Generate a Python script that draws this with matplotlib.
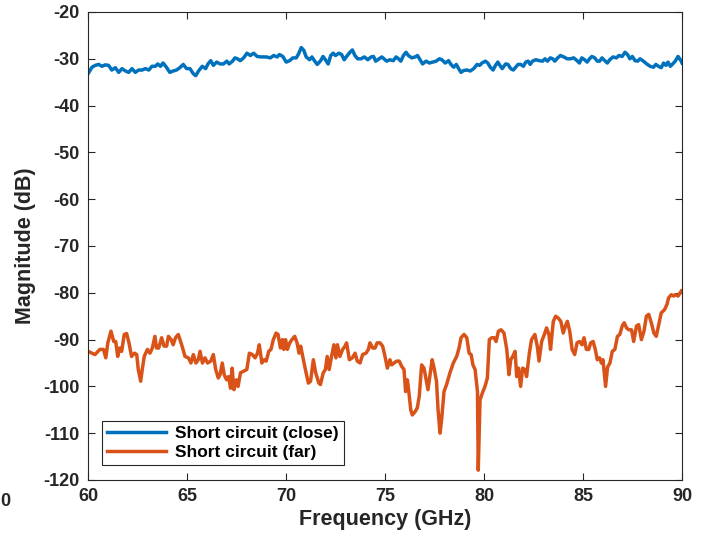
import matplotlib
matplotlib.use("Agg")
import matplotlib.pyplot as plt

plt.rcParams['font.family'] = ['Liberation Sans', 'DejaVu Sans']
plt.rcParams['axes.unicode_minus'] = False

# Short circuit (close) - frequency (GHz), magnitude (dB)
close_f = [60.0, 60.2, 60.37, 60.54, 60.7, 60.87, 61.04, 61.2, 61.38, 61.55, 61.72, 61.89,
           62.05, 62.22, 62.39, 62.56, 62.73, 62.9, 63.07, 63.23, 63.4, 63.52, 63.66, 63.79,
           63.96, 64.13, 64.3, 64.47, 64.64, 64.81, 64.98, 65.15, 65.32, 65.44, 65.6, 65.77,
           65.94, 66.06, 66.2, 66.33, 66.5, 66.67, 66.84, 67.01, 67.13, 67.3, 67.42, 67.55,
           67.69, 67.86, 68.03, 68.2, 68.37, 68.54, 68.74, 69.0, 69.21, 69.38, 69.55, 69.67,
           69.84, 70.01, 70.18, 70.35, 70.52, 70.64, 70.77, 70.9, 71.02, 71.19, 71.31, 71.45,
           71.58, 71.75, 71.87, 71.99, 72.13, 72.26, 72.38, 72.5, 72.67, 72.81, 72.94, 73.06,
           73.23, 73.35, 73.48, 73.62, 73.79, 73.96, 74.13, 74.3, 74.42, 74.53, 74.7, 74.84,
           75.08, 75.25, 75.42, 75.56, 75.68, 75.8, 75.93, 76.06, 76.18, 76.35, 76.52, 76.64,
           76.77, 76.9, 77.07, 77.24, 77.41, 77.58, 77.75, 77.87, 78.04, 78.21, 78.33, 78.47,
           78.6, 78.72, 78.84, 78.97, 79.14, 79.31, 79.48, 79.65, 79.78, 79.9, 80.07, 80.19,
           80.32, 80.46, 80.58, 80.7, 80.8, 80.92, 81.09, 81.21, 81.35, 81.48, 81.6, 81.72,
           81.86, 81.99, 82.11, 82.23, 82.33, 82.45, 82.62, 82.79, 82.96, 83.08, 83.21, 83.35,
           83.47, 83.58, 83.72, 83.86, 84.03, 84.2, 84.36, 84.53, 84.7, 84.82, 84.94, 85.08,
           85.21, 85.33, 85.45, 85.59, 85.72, 85.84, 85.96, 86.1, 86.23, 86.35, 86.52, 86.69,
           86.81, 86.98, 87.12, 87.25, 87.37, 87.49, 87.63, 87.76, 87.88, 88.05, 88.22, 88.39,
           88.56, 88.68, 88.81, 88.95, 89.07, 89.19, 89.29, 89.41, 89.53, 89.66, 89.8, 89.92, 90.0]
close_db = [-33.2, -31.8, -31.4, -31.2, -31.6, -31.3, -31.4, -32.4, -31.9, -32.9, -32.1, -32.6,
            -32.9, -32.1, -32.9, -32.4, -32.4, -32.1, -32.4, -31.6, -31.6, -31.1, -31.6, -30.9,
            -31.8, -32.9, -32.6, -32.4, -31.9, -31.2, -32.1, -32.1, -33.2, -33.6, -32.5, -31.6,
            -32.1, -31.1, -30.4, -31.4, -30.7, -31.1, -31.1, -30.5, -31.1, -30.5, -29.8, -30.0,
            -30.4, -29.8, -28.8, -29.3, -28.8, -29.5, -29.6, -29.6, -29.8, -29.3, -29.6, -29.1,
            -29.5, -30.7, -30.4, -29.8, -29.8, -28.9, -27.6, -28.2, -29.6, -30.2, -29.6, -30.5,
            -31.2, -30.4, -29.5, -30.2, -31.1, -29.3, -28.8, -29.3, -28.8, -29.1, -30.2, -29.5,
            -28.6, -28.1, -29.3, -30.0, -30.0, -29.6, -30.2, -29.6, -29.5, -30.5, -30.0, -29.6,
            -30.5, -30.2, -30.4, -29.6, -30.0, -30.5, -29.3, -28.6, -29.3, -29.8, -29.6, -29.3,
            -30.2, -31.1, -30.5, -30.9, -30.7, -30.5, -30.0, -30.2, -30.9, -30.4, -31.2, -31.8,
            -31.2, -32.1, -32.9, -32.5, -32.4, -32.6, -32.1, -31.2, -31.4, -30.9, -30.5, -30.9,
            -31.8, -32.4, -31.4, -30.7, -31.4, -32.1, -31.1, -31.2, -32.1, -32.4, -31.8, -31.2,
            -31.2, -31.6, -30.7, -30.5, -31.2, -30.5, -30.2, -30.4, -30.5, -30.0, -30.5, -29.8,
            -30.0, -30.5, -29.8, -29.3, -29.6, -30.0, -30.0, -29.8, -30.4, -30.9, -29.8, -30.2,
            -30.7, -30.0, -29.5, -29.8, -30.5, -30.5, -29.8, -30.4, -30.9, -30.2, -29.6, -29.8,
            -29.3, -29.5, -28.6, -29.1, -30.0, -29.5, -30.4, -30.5, -30.0, -30.5, -31.1, -31.6,
            -31.8, -31.2, -31.6, -31.9, -30.9, -31.4, -30.7, -31.6, -31.1, -30.5, -29.5, -30.2, -30.9]

# Short circuit (far)
far_f = [60.0, 60.2, 60.35, 60.6, 60.78, 60.9, 61.0, 61.16, 61.3, 61.4, 61.5, 61.6, 61.7,
         61.83, 61.95, 62.07, 62.2, 62.35, 62.46, 62.54, 62.66, 62.74, 62.84, 63.0, 63.13,
         63.25, 63.38, 63.46, 63.57, 63.72, 63.84, 63.97, 64.06, 64.2, 64.3, 64.42, 64.56,
         64.73, 64.9, 65.07, 65.2, 65.32, 65.45, 65.57, 65.66, 65.78, 65.91, 66.04, 66.2,
         66.33, 66.45, 66.58, 66.67, 66.78, 66.88, 67.0, 67.1, 67.2, 67.28, 67.37, 67.5,
         67.58, 67.7, 67.84, 68.02, 68.15, 68.3, 68.44, 68.56, 68.65, 68.78, 68.9, 69.0,
         69.13, 69.24, 69.36, 69.5, 69.6, 69.72, 69.82, 69.89, 69.98, 70.07, 70.19, 70.3,
         70.44, 70.56, 70.66, 70.74, 70.86, 70.98, 71.13, 71.24, 71.38, 71.5, 71.66, 71.74,
         71.88, 71.99, 72.08, 72.18, 72.3, 72.42, 72.52, 72.6, 72.72, 72.86, 72.98, 73.06,
         73.2, 73.35, 73.49, 73.6, 73.74, 73.87, 74.04, 74.16, 74.24, 74.38, 74.5, 74.6,
         74.75, 74.88, 75.0, 75.12, 75.25, 75.34, 75.46, 75.59, 75.72, 75.84, 75.96, 76.04,
         76.13, 76.21, 76.3, 76.38, 76.52, 76.63, 76.73, 76.85, 76.97, 77.09, 77.17, 77.26,
         77.38, 77.48, 77.6, 77.68, 77.78, 77.86, 77.98, 78.11, 78.28, 78.45, 78.62, 78.74,
         78.84, 78.99, 79.13, 79.25, 79.35, 79.44, 79.55, 79.67, 79.71, 79.8, 79.92, 80.05,
         80.17, 80.27, 80.39, 80.51, 80.61, 80.73, 80.86, 81.01, 81.15, 81.26, 81.35, 81.45,
         81.57, 81.65, 81.74, 81.85, 81.95, 82.07, 82.15, 82.29, 82.4, 82.57, 82.69, 82.78,
         82.91, 83.05, 83.16, 83.28, 83.36, 83.5, 83.62, 83.75, 83.88, 84.0, 84.11, 84.21,
         84.33, 84.45, 84.58, 84.7, 84.83, 84.95, 85.05, 85.17, 85.29, 85.39, 85.51, 85.62,
         85.72, 85.84, 85.93, 86.01, 86.14, 86.24, 86.36, 86.48, 86.61, 86.74, 86.86, 86.98,
         87.08, 87.2, 87.31, 87.45, 87.56, 87.7, 87.81, 87.95, 88.08, 88.2, 88.32, 88.45,
         88.58, 88.7, 88.81, 88.95, 89.12, 89.24, 89.32, 89.46, 89.58, 89.66, 89.8, 89.97]
far_db = [-92.5, -92.9, -93.2, -92.1, -92.1, -93.9, -90.7, -88.2, -90.4, -90.4, -93.6, -91.8, -92.5,
          -88.9, -88.7, -90.7, -93.6, -92.9, -93.2, -96.4, -98.9, -96.4, -93.6, -92.1, -92.9,
          -91.8, -89.3, -91.8, -91.8, -89.6, -91.4, -91.4, -89.3, -90.0, -91.1, -89.6, -88.9,
          -91.1, -93.6, -93.9, -95.0, -93.2, -95.0, -94.3, -92.5, -95.0, -93.9, -95.0, -94.6,
          -93.2, -96.4, -98.2, -97.5, -95.0, -97.5, -98.6, -97.9, -100.4, -96.1, -100.7, -98.6,
          -100.0, -97.1, -96.8, -96.4, -92.9, -93.2, -93.9, -92.9, -91.1, -95.0, -94.3, -94.6,
          -92.5, -92.1, -90.0, -88.6, -88.9, -91.8, -90.0, -92.1, -90.0, -92.1, -90.7, -90.0,
          -89.3, -90.7, -92.9, -91.4, -93.9, -96.4, -99.3, -98.9, -94.3, -97.1, -99.3, -99.6,
          -97.1, -96.4, -93.6, -96.4, -93.6, -91.1, -93.9, -91.1, -93.6, -92.1, -91.4, -90.7,
          -94.3, -93.9, -92.9, -94.6, -95.0, -93.2, -92.9, -92.1, -90.7, -91.8, -91.8, -90.7,
          -90.7, -91.4, -93.6, -96.1, -94.3, -95.4, -95.0, -94.6, -94.6, -95.7, -96.4, -101.1,
          -98.6, -101.4, -105.0, -106.1, -105.4, -104.6, -102.1, -95.4, -96.1, -98.9, -100.7, -97.9,
          -94.3, -96.1, -98.9, -105.0, -110.0, -107.1, -101.1, -99.6, -97.1, -95.0, -93.6, -91.8,
          -89.6, -88.9, -89.6, -92.9, -93.2, -95.4, -96.4, -101.1, -117.9, -102.9, -101.4, -100.0,
          -98.2, -90.0, -89.6, -89.6, -90.4, -88.2, -87.9, -88.6, -92.1, -97.5, -94.3, -93.6,
          -92.5, -97.9, -96.1, -100.0, -96.1, -96.4, -97.9, -92.9, -90.0, -88.9, -91.4, -94.6,
          -90.4, -88.9, -87.5, -88.9, -92.1, -86.1, -85.0, -85.4, -86.1, -88.6, -87.1, -86.1,
          -88.2, -92.1, -93.2, -90.7, -90.4, -91.1, -89.6, -92.1, -92.1, -90.7, -90.4, -92.1,
          -94.3, -93.9, -95.0, -94.3, -100.0, -95.9, -95.0, -92.5, -92.1, -89.3, -88.9, -87.1,
          -86.4, -87.5, -87.9, -87.9, -90.4, -87.1, -86.8, -90.0, -88.2, -85.0, -84.6, -86.4,
          -88.6, -89.3, -87.1, -84.3, -83.6, -82.5, -81.1, -80.4, -80.7, -80.4, -80.7, -79.6]

x_ticks = [60, 65, 70, 75, 80, 85, 90]
y_ticks = [-120, -110, -100, -90, -80, -70, -60, -50, -40, -30, -20]

dark = "#262626"

fig = plt.figure(figsize=(7.05, 5.44), dpi=100)
ax = fig.add_axes([88/705, 1 - 480/544, 594/705, 468/544])

ax.plot(close_f, close_db, color="#0072BD", lw=2.5, label="Short circuit (close)")
ax.plot(far_f, far_db, color="#D95319", lw=2.5, label="Short circuit (far)")

ax.set_xlim(60, 90)
ax.set_ylim(-120, -20)
ax.set_xticks(x_ticks)
ax.set_yticks(y_ticks)
ax.tick_params(direction="in", top=True, right=True, length=5, width=0.8,
               colors=dark, labelsize=13, pad=6)
for lab in ax.get_xticklabels() + ax.get_yticklabels():
    lab.set_fontweight("bold")
for sp in ax.spines.values():
    sp.set_color(dark)
    sp.set_linewidth(0.8)

ax.set_xlabel("Frequency (GHz)", fontsize=15.5, fontweight="bold", color=dark, labelpad=3)
ax.set_ylabel("Magnitude (dB)", fontsize=15.5, fontweight="bold", color=dark, labelpad=5)

leg = ax.legend(loc="lower left", bbox_to_anchor=(0.024, 0.032), fancybox=False,
                framealpha=1, edgecolor=dark, handlelength=3.4, borderpad=0.3,
                labelspacing=0.2, handletextpad=0.5, borderaxespad=0,
                prop={"weight": "bold", "size": 12.5})
leg.get_frame().set_linewidth(0.8)

# stray cut-off label at the left edge
fig.text(0.0, 1 - 501/544, "0", fontsize=13, fontweight="bold", color=dark,
         ha="left", va="center")

fig.savefig("out.png", dpi=100)
